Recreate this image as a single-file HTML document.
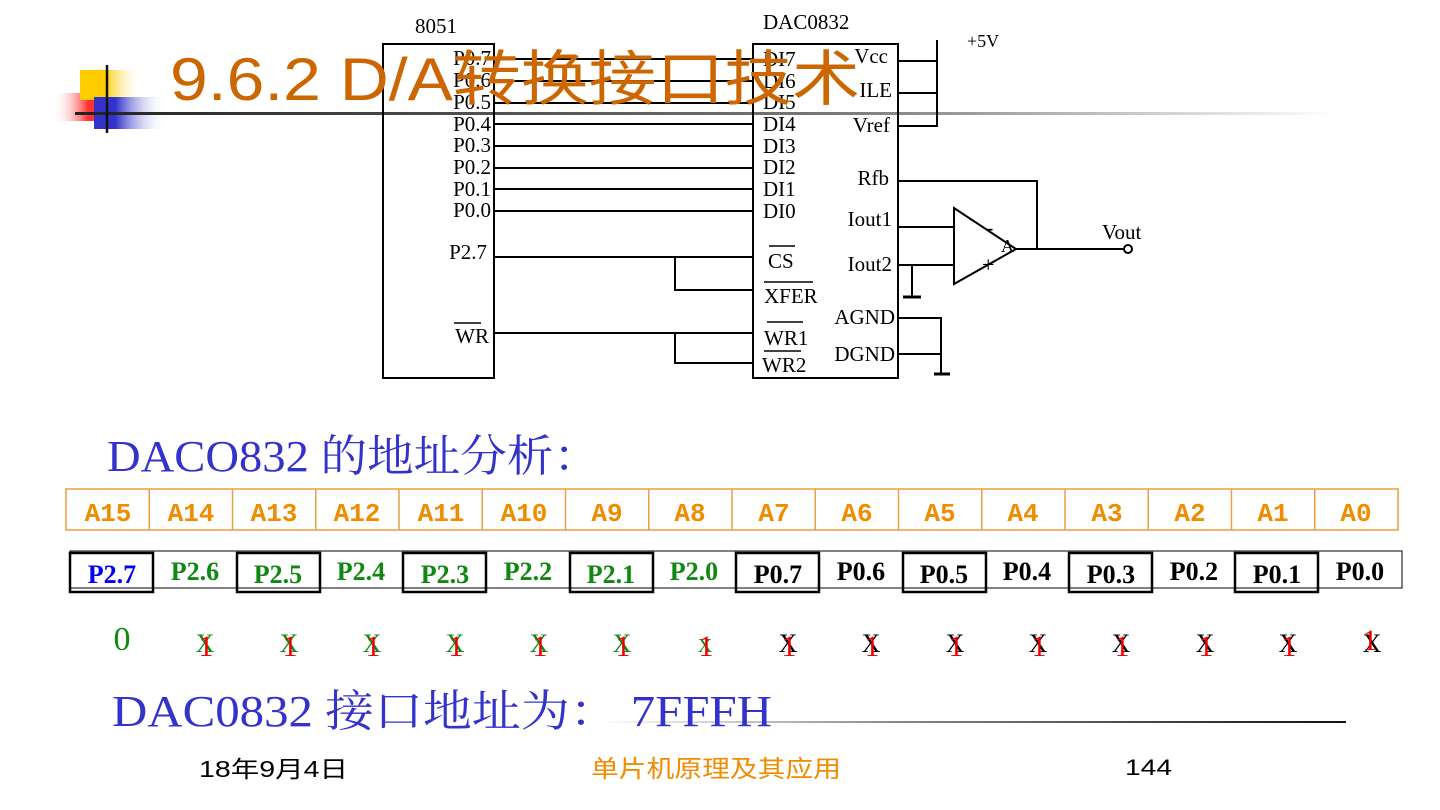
<!DOCTYPE html>
<html><head><meta charset="utf-8"><style>
html,body{margin:0;padding:0;background:#fff;width:1440px;height:810px;overflow:hidden}
svg{display:block}
.s{font-family:"Liberation Serif","Noto Serif CJK SC",serif}
.a{font-family:"Liberation Sans","Noto Sans CJK SC",sans-serif}
</style></head><body>
<svg width="1440" height="810" viewBox="0 0 1440 810" xmlns="http://www.w3.org/2000/svg">
<defs>
<linearGradient id="ul" x1="0" x2="1"><stop offset="0" stop-color="#222"/><stop offset="0.6" stop-color="#777"/><stop offset="1" stop-color="#fff"/></linearGradient>
<linearGradient id="yl" x1="0" x2="1"><stop offset="0.4" stop-color="#ffcc00"/><stop offset="1" stop-color="#fff" stop-opacity="0"/></linearGradient>
<linearGradient id="pk" x1="1" x2="0"><stop offset="0.3" stop-color="#ff3333"/><stop offset="1" stop-color="#fff" stop-opacity="0"/></linearGradient>
<linearGradient id="bl" x1="0" x2="1"><stop offset="0.3" stop-color="#3333cc"/><stop offset="1" stop-color="#fff" stop-opacity="0"/></linearGradient>
<linearGradient id="ul2" x1="0" x2="1"><stop offset="0" stop-color="#fff"/><stop offset="0.4" stop-color="#888"/><stop offset="1" stop-color="#111"/></linearGradient>
</defs>
<!-- deco -->
<rect x="53" y="93" width="50" height="28" fill="url(#pk)"/>
<rect x="80" y="70" width="62" height="30" fill="url(#yl)"/>
<rect x="94" y="97" width="72" height="32" fill="url(#bl)"/>
<rect x="75" y="112" width="1260" height="3" fill="url(#ul)"/>
<line x1="107" y1="65" x2="107" y2="133" stroke="#111" stroke-width="2.5"/>

<g stroke="#000" stroke-width="2" fill="none">
<rect x="383" y="44" width="111" height="334"/>
<rect x="753" y="44" width="145" height="334"/>
<line x1="494" y1="59" x2="753" y2="59"/>
<line x1="494" y1="81" x2="753" y2="81"/>
<line x1="494" y1="103" x2="753" y2="103"/>
<line x1="494" y1="124" x2="753" y2="124"/>
<line x1="494" y1="146" x2="753" y2="146"/>
<line x1="494" y1="168" x2="753" y2="168"/>
<line x1="494" y1="189" x2="753" y2="189"/>
<line x1="494" y1="211" x2="753" y2="211"/>
<line x1="494" y1="257" x2="753" y2="257"/>
<polyline points="675,257 675,290 753,290"/>
<line x1="494" y1="333" x2="753" y2="333"/>
<polyline points="675,333 675,363 753,363"/>
<line x1="898" y1="61" x2="937" y2="61"/>
<line x1="898" y1="93" x2="937" y2="93"/>
<line x1="898" y1="126" x2="937" y2="126"/>
<line x1="937" y1="40" x2="937" y2="127"/>
<polyline points="898,181 1037,181 1037,249"/>
<line x1="898" y1="227" x2="954" y2="227"/>
<line x1="898" y1="265" x2="954" y2="265"/>
<polyline points="912,265 912,297"/>
<line x1="903" y1="297" x2="921" y2="297" stroke-width="3"/>
<polygon points="954,208 954,284 1016,249"/>
<line x1="1016" y1="249" x2="1124" y2="249"/>
<circle cx="1128" cy="249" r="4"/>
<polyline points="898,318 941,318 941,374"/>
<line x1="898" y1="354" x2="941" y2="354"/>
<line x1="934" y1="374" x2="950" y2="374" stroke-width="3"/>
<line x1="769" y1="246" x2="795" y2="246" stroke-width="1.5"/>
<line x1="764" y1="282" x2="813" y2="282" stroke-width="1.5"/>
<line x1="767" y1="322" x2="803" y2="322" stroke-width="1.5"/>
<line x1="764" y1="351" x2="801" y2="351" stroke-width="1.5"/>
<line x1="454" y1="323" x2="481" y2="323" stroke-width="1.5"/>
</g>
<g class="s" font-size="21" fill="#000">
<text x="415" y="33">8051</text>
<text x="763" y="29">DAC0832</text>
<text x="967" y="47" font-size="18">+5V</text>
<g text-anchor="end">
<text x="491" y="65">P0.7</text><text x="491" y="87">P0.6</text><text x="491" y="109">P0.5</text>
<text x="491" y="131">P0.4</text><text x="491" y="152">P0.3</text><text x="491" y="174">P0.2</text>
<text x="491" y="196">P0.1</text><text x="491" y="217">P0.0</text>
<text x="487" y="259">P2.7</text><text x="489" y="343">WR</text>
<text x="888" y="63">Vcc</text><text x="892" y="97">ILE</text><text x="890" y="132">Vref</text>
<text x="889" y="185">Rfb</text><text x="892" y="226">Iout1</text><text x="892" y="271">Iout2</text>
<text x="895" y="324">AGND</text><text x="895" y="361">DGND</text>
</g>
<text x="763" y="66">DI7</text><text x="763" y="88">DI6</text><text x="763" y="109">DI5</text>
<text x="763" y="131">DI4</text><text x="763" y="153">DI3</text><text x="763" y="174">DI2</text>
<text x="763" y="196">DI1</text><text x="763" y="218">DI0</text>
<text x="768" y="268">CS</text><text x="764" y="303">XFER</text>
<text x="764" y="345">WR1</text><text x="762" y="372">WR2</text>
<text x="1102" y="239">Vout</text>
<text x="1001" y="252" font-size="18">A</text>
<text x="986" y="235" font-size="22">-</text>
<text x="982" y="272" font-size="22">+</text>
</g>
<!-- title -->
<text class="a" x="170" y="100" font-size="60" fill="#cc6600" textLength="690" lengthAdjust="spacingAndGlyphs">9.6.2 D/A转换接口技术</text>

<text class="s" x="107" y="471" font-size="44" fill="#3333cc" textLength="493" lengthAdjust="spacingAndGlyphs">DACO832 的地址分析：</text>

<g font-family="Liberation Mono, monospace" font-weight="bold" font-size="26" fill="#f08c00" text-anchor="middle">
<rect x="66" y="489" width="1332" height="41" fill="none" stroke="#e8a040" stroke-width="1.5"/>
<g stroke="#e8a040" stroke-width="1.5">
<line x1="149.25" y1="489" x2="149.25" y2="530"/><line x1="232.5" y1="489" x2="232.5" y2="530"/><line x1="315.75" y1="489" x2="315.75" y2="530"/><line x1="399" y1="489" x2="399" y2="530"/><line x1="482.25" y1="489" x2="482.25" y2="530"/><line x1="565.5" y1="489" x2="565.5" y2="530"/><line x1="648.75" y1="489" x2="648.75" y2="530"/><line x1="732" y1="489" x2="732" y2="530"/><line x1="815.25" y1="489" x2="815.25" y2="530"/><line x1="898.5" y1="489" x2="898.5" y2="530"/><line x1="981.75" y1="489" x2="981.75" y2="530"/><line x1="1065" y1="489" x2="1065" y2="530"/><line x1="1148.25" y1="489" x2="1148.25" y2="530"/><line x1="1231.5" y1="489" x2="1231.5" y2="530"/><line x1="1314.75" y1="489" x2="1314.75" y2="530"/>
</g>
<text x="108" y="521">A15</text><text x="191" y="521">A14</text><text x="274" y="521">A13</text><text x="357" y="521">A12</text><text x="441" y="521">A11</text><text x="524" y="521">A10</text><text x="607" y="521">A9</text><text x="690" y="521">A8</text><text x="774" y="521">A7</text><text x="857" y="521">A6</text><text x="940" y="521">A5</text><text x="1023" y="521">A4</text><text x="1107" y="521">A3</text><text x="1190" y="521">A2</text><text x="1273" y="521">A1</text><text x="1356" y="521">A0</text>
</g>

<g fill="none" stroke="#000">
<rect x="70" y="551" width="1332" height="37" stroke-width="1"/>
<rect x="70" y="553" width="83" height="39" stroke-width="2.5"/>
<rect x="237" y="553" width="83" height="39" stroke-width="2.5"/>
<rect x="403" y="553" width="83" height="39" stroke-width="2.5"/>
<rect x="570" y="553" width="83" height="39" stroke-width="2.5"/>
<rect x="736" y="553" width="83" height="39" stroke-width="2.5"/>
<rect x="903" y="553" width="83" height="39" stroke-width="2.5"/>
<rect x="1069" y="553" width="83" height="39" stroke-width="2.5"/>
<rect x="1235" y="553" width="83" height="39" stroke-width="2.5"/>
</g>
<g class="s" font-weight="bold" font-size="26" text-anchor="middle">
<text x="112" y="583" fill="#0000ee">P2.7</text>
<text x="195" y="580" fill="#118811">P2.6</text>
<text x="278" y="583" fill="#118811">P2.5</text>
<text x="361" y="580" fill="#118811">P2.4</text>
<text x="445" y="583" fill="#118811">P2.3</text>
<text x="528" y="580" fill="#118811">P2.2</text>
<text x="611" y="583" fill="#118811">P2.1</text>
<text x="694" y="580" fill="#118811">P2.0</text>
<text x="778" y="583" fill="#000">P0.7</text>
<text x="861" y="580" fill="#000">P0.6</text>
<text x="944" y="583" fill="#000">P0.5</text>
<text x="1027" y="580" fill="#000">P0.4</text>
<text x="1111" y="583" fill="#000">P0.3</text>
<text x="1194" y="580" fill="#000">P0.2</text>
<text x="1277" y="583" fill="#000">P0.1</text>
<text x="1360" y="580" fill="#000">P0.0</text>
</g>
<g class="s" font-size="26" text-anchor="middle">
<text x="122" y="650" font-size="34" fill="#118811">0</text>
<g fill="#118811">
<text x="205" y="652">X</text><text x="289" y="652">X</text><text x="372" y="652">X</text><text x="455" y="652">X</text><text x="539" y="652">X</text><text x="622" y="652">X</text><text x="705" y="652" font-size="20">X</text>
</g>
<g fill="#000">
<text x="788" y="652">X</text><text x="871" y="652">X</text><text x="955" y="652">X</text><text x="1038" y="652">X</text><text x="1121" y="652">X</text><text x="1205" y="652">X</text><text x="1288" y="652">X</text><text x="1372" y="652">X</text>
</g>
<g fill="#ee0000" font-size="30">
<text x="206" y="656">1</text><text x="290" y="656">1</text><text x="373" y="656">1</text><text x="456" y="656">1</text><text x="540" y="656">1</text><text x="623" y="656">1</text><text x="706" y="656">1</text>
<text x="789" y="656">1</text><text x="872" y="656">1</text><text x="956" y="656">1</text><text x="1039" y="656">1</text><text x="1122" y="656">1</text><text x="1206" y="656">1</text><text x="1289" y="656">1</text><text x="1370" y="650">1</text>
</g>
</g>
<rect x="600" y="721" width="746" height="2" fill="url(#ul2)"/>
<text class="s" x="112" y="726" font-size="44" fill="#3333cc" textLength="660" lengthAdjust="spacingAndGlyphs">DAC0832 接口地址为：  7FFFH</text>
<text class="a" x="199" y="777" font-size="23" fill="#000" textLength="149" lengthAdjust="spacingAndGlyphs">18年9月4日</text>
<text class="a" x="591" y="777" font-size="24" fill="#f08c00" textLength="250" lengthAdjust="spacingAndGlyphs">单片机原理及其应用</text>
<text class="a" x="1125" y="775" font-size="22" fill="#000" textLength="47" lengthAdjust="spacingAndGlyphs">144</text>
</svg>
</body></html>
